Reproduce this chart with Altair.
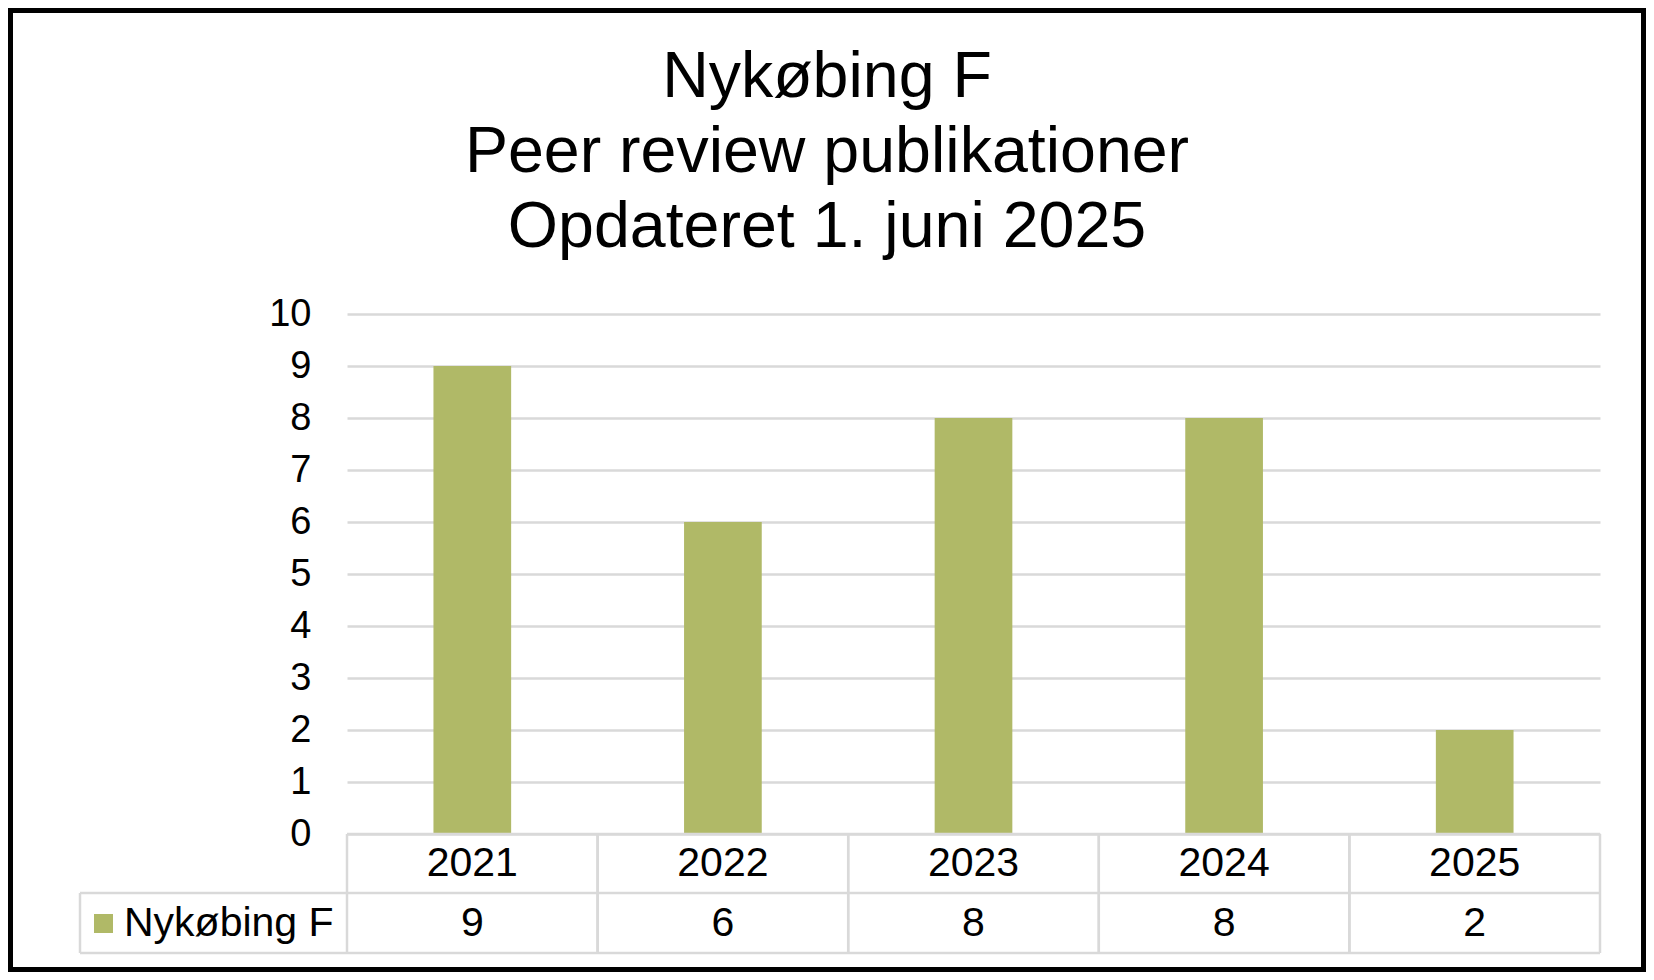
import altair as alt
import pandas as pd

TITLE_LINES = ["Nykøbing F", "Peer review publikationer", "Opdateret 1. juni 2025"]
YEARS = ["2021", "2022", "2023", "2024", "2025"]
COUNTS = [9, 6, 8, 8, 2]
SERIES_NAME = "Nykøbing F"
Y_TICKS = [0, 1, 2, 3, 4, 5, 6, 7, 8, 9, 10]

BAR_COLOR = "#B0B967"
GRID_COLOR = "#D9D9D9"
FONT = "Liberation Sans"

df = pd.DataFrame({"year": YEARS, "count": COUNTS})
series_df = pd.DataFrame({"series": [SERIES_NAME]})
title_df = pd.DataFrame({"title": ["\n".join(TITLE_LINES)]})

W, H = 1253, 520
PAD = {"left": 339, "top": 306, "right": 46, "bottom": 138}
TABLE_FS = 41

x_enc = alt.X("year:N", sort=YEARS, scale=alt.Scale(paddingInner=0, paddingOuter=0), axis=None)

bars = alt.Chart(df).mark_bar(width=alt.RelativeBandSize(0.31), color=BAR_COLOR).encode(
    x=x_enc,
    y=alt.Y("count:Q", scale=alt.Scale(domain=[0, 10]), title=None,
            axis=alt.Axis(values=Y_TICKS, ticks=False, domain=False, labelPadding=36,
                          labelFontSize=38, labelColor="black", labelFont=FONT,
                          gridColor=GRID_COLOR, gridWidth=2.5, gridOpacity=1)),
)

# table vertical lines at band boundaries
vlines_left = alt.Chart(df).mark_rule(color=GRID_COLOR, strokeWidth=2.5).encode(
    x=alt.X("year:N", sort=YEARS, bandPosition=0),
    y=alt.value(520), y2=alt.value(639),
)
vlines_right = alt.Chart(df).mark_rule(color=GRID_COLOR, strokeWidth=2.5).encode(
    x=alt.X("year:N", sort=YEARS, bandPosition=1),
    y=alt.value(520), y2=alt.value(639),
)
hline_top = alt.Chart(series_df).mark_rule(color=GRID_COLOR, strokeWidth=2.5).encode(
    x=alt.value(0), x2=alt.value(W), y=alt.value(520))
hline_mid = alt.Chart(series_df).mark_rule(color=GRID_COLOR, strokeWidth=2.5).encode(
    x=alt.value(-267), x2=alt.value(W), y=alt.value(579))
hline_bot = alt.Chart(series_df).mark_rule(color=GRID_COLOR, strokeWidth=2.5).encode(
    x=alt.value(-267), x2=alt.value(W), y=alt.value(639))
vline_legend = alt.Chart(series_df).mark_rule(color=GRID_COLOR, strokeWidth=2.5).encode(
    x=alt.value(-267), y=alt.value(579), y2=alt.value(639))

header_text = alt.Chart(df).mark_text(fontSize=TABLE_FS, font=FONT, color="black", baseline="middle").encode(
    x=alt.X("year:N", sort=YEARS), y=alt.value(550), text="year:N")
value_text = alt.Chart(df).mark_text(fontSize=TABLE_FS, font=FONT, color="black", baseline="middle").encode(
    x=alt.X("year:N", sort=YEARS), y=alt.value(610), text="count:Q")

legend_sq = alt.Chart(series_df).mark_rect(color=BAR_COLOR).encode(
    x=alt.value(-253), x2=alt.value(-234), y=alt.value(600), y2=alt.value(619))
legend_txt = alt.Chart(series_df).mark_text(fontSize=TABLE_FS, font=FONT, color="black", align="left",
                                            baseline="middle").encode(
    x=alt.value(-223), y=alt.value(610), text="series:N")

title_txt = alt.Chart(title_df).mark_text(fontSize=64.5, font=FONT, color="black", align="center",
                                          baseline="middle", lineBreak="\n", lineHeight=75).encode(
    x=alt.value(480), y=alt.value(-236), text="title:N")

border = alt.Chart(series_df).mark_rect(fill=None, stroke="black", strokeWidth=10).encode(
    x=alt.value(-PAD["left"]), x2=alt.value(W + PAD["right"]),
    y=alt.value(-PAD["top"]), y2=alt.value(H + PAD["bottom"]))

chart = alt.layer(
    bars, hline_top, hline_mid, hline_bot, vlines_left, vlines_right, vline_legend,
    header_text, value_text, legend_sq, legend_txt, title_txt, border
).properties(
    width=W, height=H,
    autosize=alt.AutoSizeParams(type="none"),
    padding=PAD,
    background="white",
).configure_view(stroke=None)

chart.save("out.html", embed_options={"renderer": "svg", "actions": False})
